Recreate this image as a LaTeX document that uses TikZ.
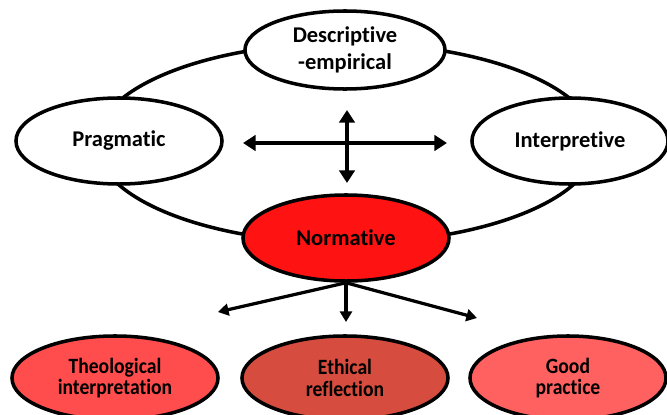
\documentclass[tikz,border=0pt]{standalone}
\usepackage{fontspec}
\setmainfont{Carlito}[Ligatures=NoCommon]
\newfontfamily\narrowfont{Carlito}[Ligatures=NoCommon, FakeStretch=0.9]
\usetikzlibrary{shapes.geometric,arrows.meta}

\definecolor{normred}{RGB}{255,18,18}
\definecolor{theored}{RGB}{255,76,76}
\definecolor{ethicred}{RGB}{214,76,62}
\definecolor{goodred}{RGB}{255,96,96}

\tikzset{
  phase/.style={ellipse, draw, line width=2.5pt, fill=white, inner sep=0pt,
    minimum width=5.15cm, minimum height=2.15cm, align=center,
    font=\fontsize{16}{19}\selectfont\bfseries},
  outcome/.style={phase, minimum height=2.1cm, font=\narrowfont\fontsize{15.5}{15.5}\selectfont\bfseries},
  bigarrow/.style={line width=3pt, {Triangle[length=9pt,width=11pt]}-{Triangle[length=9pt,width=11pt]}},
  leadarrow/.style={line width=2.3pt, -{Triangle[length=7.5pt,width=8.5pt]}}
}

\begin{document}
\begin{tikzpicture}[x=0.025cm, y=-0.025cm]
	\useasboundingbox (0,0) rectangle (667,415);

	% the cycle behind the four tasks
	\draw[line width=2.5pt] (346,143) ellipse [x radius=250, y radius=100];

	\node[phase, minimum width=5cm, minimum height=1.95cm] (desc) at (345,50) {Descriptive\\-empirical};
	\node[phase] (prag) at (119,141) {Pragmatic};
	\node[phase, minimum width=4.9cm] (interp) at (570,141) {Interpretive};
	\node[phase, fill=normred] (norm) at (346,238) {Normative};

	\node[outcome, fill=theored] (theo) at (115,378) {Theological\\interpretation};
	\node[outcome, fill=ethicred] (ethic) at (345,378) {Ethical\\reflection};
	\node[outcome, fill=goodred, minimum width=4.9cm] (good) at (568,378) {Good\\practice};

	% arrows in the middle of the cycle
	\coordinate (hl) at (243,143);
	\coordinate (hr) at (447,143);
	\coordinate (vt) at (347,110);
	\coordinate (vb) at (347,183);
	\draw[bigarrow] (hl) -- (hr);
	\draw[bigarrow] (vt) -- (vb);

	% normative leads to the three outcomes
	\coordinate (tl) at (218,312);
	\coordinate (td) at (346,322);
	\coordinate (tr) at (477,318);
	\draw[leadarrow] (norm.south) -- (tl);
	\draw[leadarrow] (norm.south) -- (td);
	\draw[leadarrow] (norm.south) -- (tr);
\end{tikzpicture}
\end{document}
